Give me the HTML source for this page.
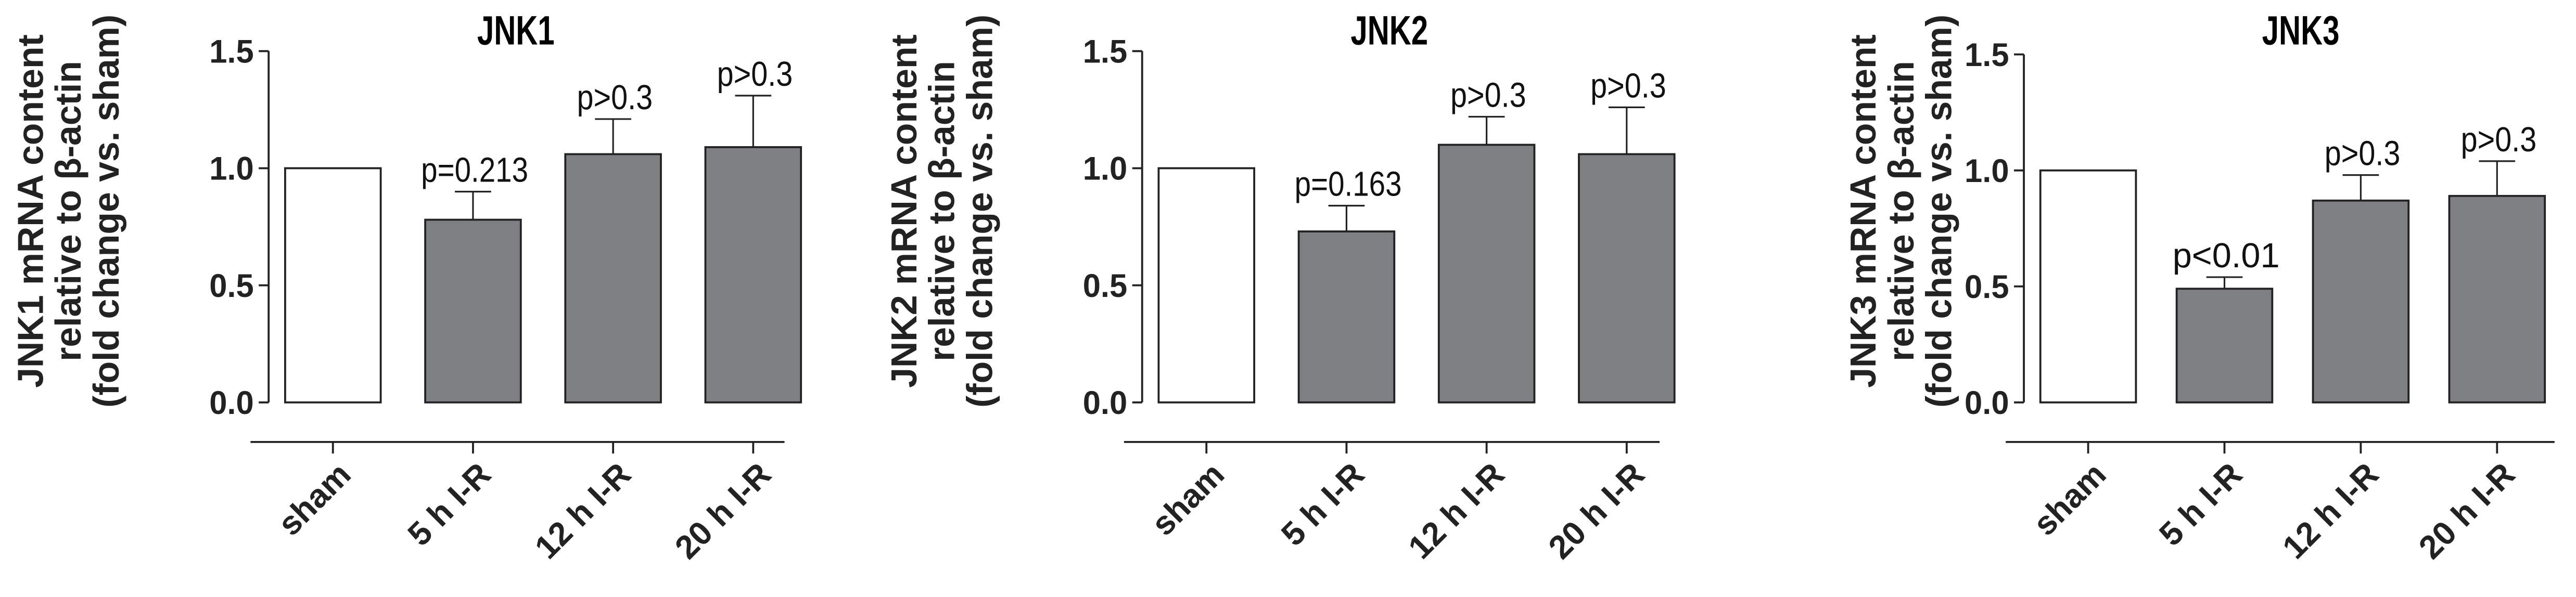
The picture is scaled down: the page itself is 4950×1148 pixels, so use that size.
<!DOCTYPE html>
<html><head><meta charset="utf-8"><style>
html,body{margin:0;padding:0;background:#fff;width:4950px;height:1148px;overflow:hidden}
svg{display:block}
text{font-family:"Liberation Sans",Arial,sans-serif}
</style></head><body>
<svg id="chart" width="4950" height="1148" viewBox="0 0 1563 362" preserveAspectRatio="none" xmlns="http://www.w3.org/2000/svg"></svg>
<script>
const categories = ["sham", "5 h I-R", "12 h I-R", "20 h I-R"];
const panelTitles = ["JNK1", "JNK2", "JNK3"];
const jnk1Values = [1.0, 0.78, 1.06, 1.09];
const jnk1Errors = [0, 0.12, 0.15, 0.22];
const jnk1PLabels = ["", "p=0.213", "p>0.3", "p>0.3"];
const jnk2Values = [1.0, 0.73, 1.10, 1.06];
const jnk2Errors = [0, 0.11, 0.12, 0.20];
const jnk2PLabels = ["", "p=0.163", "p>0.3", "p>0.3"];
const jnk3Values = [1.0, 0.49, 0.87, 0.89];
const jnk3Errors = [0, 0.05, 0.11, 0.15];
const jnk3PLabels = ["", "p<0.01", "p>0.3", "p>0.3"];
const yTicks = [0.0, 0.5, 1.0, 1.5];
const yTickLabels = ["0.0", "0.5", "1.0", "1.5"];

const NS = "http://www.w3.org/2000/svg";
const svg = document.getElementById("chart");
function mk(tag, attrs, parent) {
  const e = document.createElementNS(NS, tag);
  for (const k in attrs) e.setAttribute(k, attrs[k]);
  (parent || svg).appendChild(e);
  return e;
}
const layouts = [
  {axisX: 163, yTop: 31, yBot: 244, firstBar: 173, step: 85, barW: 58, titleX: 313, ylabX: 18, xlineL: 152, xlineR: 476},
  {axisX: 693, yTop: 31, yBot: 244, firstBar: 703, step: 85, barW: 58, titleX: 843, ylabX: 548, xlineL: 682, xlineR: 1007},
  {axisX: 1228, yTop: 33, yBot: 244, firstBar: 1238, step: 82.7, barW: 58, titleX: 1396, ylabX: 1130, xlineL: 1217, xlineR: 1550}
];
const valuesAll = [jnk1Values, jnk2Values, jnk3Values];
const errorsAll = [jnk1Errors, jnk2Errors, jnk3Errors];
const pAll = [jnk1PLabels, jnk2PLabels, jnk3PLabels];

layouts.forEach((L, pi) => {
  const g = mk("g", {});
  
  
  const y = v => L.yBot - (v / 1.5) * (L.yBot - L.yTop);
  const t = mk("text", {x: L.titleX, y: 27, "text-anchor": "middle", "font-size": 25, "font-weight": "bold", textLength: 47, lengthAdjust: "spacingAndGlyphs"}, g);
  t.textContent = panelTitles[pi];
  
  
  const ax = mk("line", {x1: L.axisX, x2: L.axisX, y1: y(1.5), y2: y(0), stroke: "#222", "stroke-width": 1.2}, g);
  
  
  yTicks.forEach((tv, i) => {
    mk("line", {x1: L.axisX - 6, x2: L.axisX, y1: y(tv), y2: y(tv), stroke: "#222", "stroke-width": 1.2}, g);
    const tl = mk("text", {x: L.axisX - 9, y: y(tv) + 7, "text-anchor": "end", "font-size": 20, "font-weight": "bold", fill: "#222", textLength: 27, lengthAdjust: "spacingAndGlyphs"}, g);
    tl.textContent = yTickLabels[i];
    
    
  });
  const yt = mk("text", {transform: `translate(${L.ylabX + 8},${128}) rotate(-90)`, "text-anchor": "middle", "font-size": 22, "font-weight": "bold", fill: "#222"}, g);
  
  
  const lines = [panelTitles[pi] + " mRNA content", "relative to \u03B2-actin", "(fold change vs. sham)"];
  lines.forEach((s, i) => { const ts = mk("tspan", {x: 0, dy: i === 0 ? 0 : 23}, yt); ts.textContent = s; });
  const xl = mk("line", {x1: L.xlineL, x2: L.xlineR, y1: 268, y2: 268, stroke: "#222", "stroke-width": 1.2}, g);
  
  
  categories.forEach((c, i) => {
    const bx = L.firstBar + i * L.step;
    const cx = bx + L.barW / 2;
    const v = valuesAll[pi][i], e = errorsAll[pi][i];
    if (e > 0) {
      const eb = mk("g", {}, g);
      
      
      mk("line", {x1: cx, x2: cx, y1: y(v), y2: y(v + e), stroke: "#222", "stroke-width": 1}, eb);
      mk("line", {x1: cx - 11, x2: cx + 11, y1: y(v + e), y2: y(v + e), stroke: "#222", "stroke-width": 1}, eb);
    }
    const b = mk("rect", {x: bx, y: y(v), width: L.barW, height: y(0) - y(v), fill: i === 0 ? "#fff" : "#7f8084", stroke: "#222", "stroke-width": 1.2}, g);
    
    
    const pl = pAll[pi][i];
    if (pl) {
      const w = pl.length > 5 ? 65 : 46;
      const pt = mk("text", {x: cx + 1, y: y(v + e) - 6, "text-anchor": "middle", "font-size": 21, fill: "#111", textLength: w, lengthAdjust: "spacingAndGlyphs"}, g);
      pt.textContent = pl;
      
      
    }
    mk("line", {x1: cx, x2: cx, y1: 268, y2: 275, stroke: "#222", "stroke-width": 1.2}, g);
    const cl = mk("text", {transform: `translate(${cx + 12},${289}) rotate(-45)`, "text-anchor": "end", "font-size": 20, "font-weight": "bold", fill: "#222"}, g);
    cl.textContent = c;
    
    
  });
});
</script>
</body></html>
